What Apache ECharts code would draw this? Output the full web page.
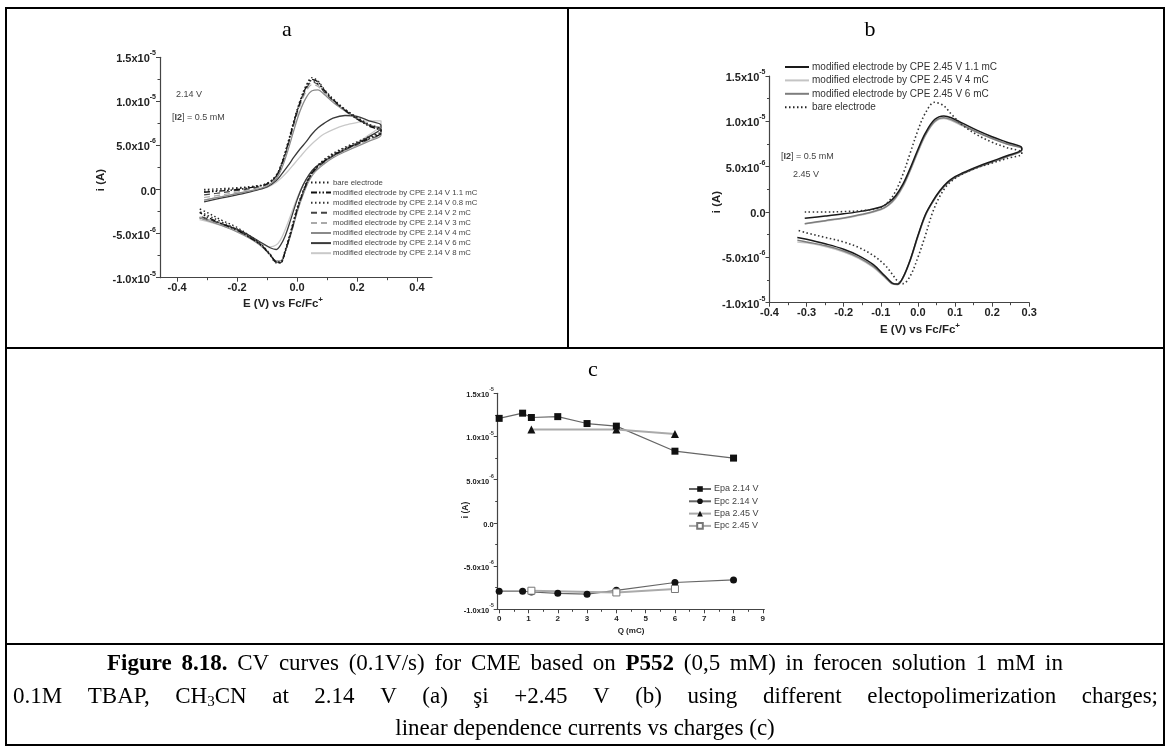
<!DOCTYPE html>
<html><head><meta charset="utf-8">
<script src="https://cdn.jsdelivr.net/npm/echarts@6/dist/echarts.min.js"></script>
<style>html,body{margin:0;padding:0;background:#fff}#c{width:1171px;height:747px}</style>
</head><body><div id="c"></div>
<script>
// ---------- DATA (currents in units of 1e-6 A) ----------
// Panel a: potential grids (V vs Fc/Fc+), forward then reverse scan
const E_FWD_A = [-0.31,-0.25,-0.2,-0.15,-0.1,-0.07,-0.05,-0.03,-0.01,0.01,0.03,0.05,0.07,0.09,0.12,0.16,0.2,0.24,0.28];
const E_REV_A = [0.28,0.24,0.2,0.16,0.12,0.09,0.06,0.04,0.02,0.0,-0.02,-0.04,-0.055,-0.07,-0.09,-0.12,-0.16,-0.2,-0.25,-0.3,-0.325];
const A_BARE_FWD = [0.0,0.1,0.2,0.35,0.7,1.6,3.1,5.3,7.8,9.9,11.5,12.4,12.0,11.2,10.2,9.1,8.2,7.4,6.8];
const A_BARE_REV = [6.6,6.0,5.4,4.8,4.1,3.4,2.4,1.4,-0.2,-2.1,-4.6,-6.9,-8.2,-8.2,-7.3,-6.2,-5.2,-4.3,-3.5,-2.6,-2.2];
const A_11_FWD = [-0.3,-0.15,0.0,0.25,0.65,1.5,3.0,5.2,7.7,9.9,11.6,12.5,12.2,11.3,10.2,9.0,8.0,7.2,6.6];
const A_11_REV = [6.4,5.8,5.2,4.6,3.9,3.2,2.3,1.3,-0.3,-2.3,-4.8,-7.1,-8.3,-8.2,-7.4,-6.3,-5.4,-4.6,-3.9,-3.1,-2.6];
const A_08_FWD = [-0.2,-0.05,0.1,0.3,0.7,1.6,3.1,5.4,7.9,10.1,11.8,12.7,12.3,11.4,10.3,9.1,8.1,7.3,6.7];
const A_08_REV = [6.5,5.9,5.3,4.7,4.0,3.3,2.4,1.4,-0.2,-2.2,-4.7,-7.0,-8.3,-8.3,-7.4,-6.3,-5.3,-4.5,-3.7,-2.9,-2.5];
const A_2_FWD = [-0.6,-0.35,-0.1,0.15,0.6,1.5,2.9,5.1,7.6,9.8,11.4,12.2,11.9,11.1,10.1,9.0,8.1,7.3,6.8];
const A_2_REV = [6.4,5.7,5.1,4.5,3.8,3.1,2.2,1.2,-0.4,-2.4,-4.9,-7.1,-8.3,-8.2,-7.4,-6.3,-5.4,-4.6,-3.9,-3.3,-3.0];
const A_3_FWD = [-0.9,-0.6,-0.3,0.05,0.5,1.4,2.8,4.9,7.3,9.5,11.1,11.9,11.7,11.0,10.0,9.0,8.1,7.3,6.8];
const A_3_REV = [6.3,5.6,5.0,4.4,3.7,3.0,2.1,1.1,-0.5,-2.5,-5.0,-7.1,-8.2,-8.2,-7.4,-6.3,-5.4,-4.7,-4.0,-3.4,-3.1];
const A_4_FWD = [-1.2,-0.8,-0.45,-0.1,0.4,1.2,2.5,4.5,6.8,8.9,10.4,11.2,11.3,10.8,9.9,8.9,8.0,7.3,6.9];
const A_4_REV = [6.2,5.5,4.9,4.3,3.6,2.9,2.0,1.0,-0.6,-2.6,-5.0,-7.1,-8.1,-8.1,-7.4,-6.4,-5.5,-4.8,-4.1,-3.5,-3.2];
const A_6_FWD = [-1.4,-0.95,-0.6,-0.2,0.3,1.0,1.8,2.7,3.7,4.6,5.4,6.3,7.0,7.5,8.1,8.4,8.3,7.8,7.3];
const A_6_REV = [7.0,6.0,5.2,4.5,3.8,3.2,2.5,1.7,0.5,-1.2,-3.3,-5.3,-6.3,-6.8,-6.6,-6.0,-5.2,-4.5,-3.9,-3.4,-3.2];
const A_8_FWD = [-1.2,-0.8,-0.5,-0.15,0.25,0.8,1.4,2.1,2.9,3.7,4.5,5.2,5.8,6.3,6.8,7.3,7.6,7.8,7.8];
const A_8_REV = [7.4,6.2,5.3,4.6,3.9,3.2,2.4,1.6,0.5,-1.0,-2.8,-4.6,-5.7,-6.3,-6.5,-6.1,-5.4,-4.7,-4.1,-3.6,-3.4];

// Panel b
const E_FWD_B = [-0.305,-0.25,-0.2,-0.15,-0.1,-0.08,-0.06,-0.04,-0.02,0.0,0.02,0.045,0.07,0.09,0.12,0.16,0.2,0.24,0.28];
const E_REV_B = [0.28,0.24,0.2,0.16,0.12,0.1,0.08,0.06,0.04,0.02,0.0,-0.02,-0.04,-0.055,-0.07,-0.09,-0.12,-0.16,-0.2,-0.25,-0.3,-0.325];
const B_11_FWD = [-0.7,-0.45,-0.2,0.1,0.55,1.0,1.8,3.1,4.9,6.9,8.7,10.2,10.6,10.4,9.8,9.0,8.3,7.7,7.1];
const B_11_REV = [6.9,6.2,5.6,5.0,4.3,3.9,3.3,2.4,1.2,-0.3,-2.6,-5.2,-7.2,-7.95,-7.8,-7.0,-5.8,-4.8,-4.1,-3.5,-3.0,-2.8];
const B_4_FWD = [-1.3,-1.0,-0.7,-0.3,0.25,0.7,1.5,2.8,4.6,6.6,8.4,9.9,10.3,10.1,9.5,8.8,8.1,7.5,7.0];
const B_4_REV = [6.8,6.1,5.5,4.9,4.2,3.8,3.2,2.3,1.1,-0.4,-2.7,-5.3,-7.3,-8.0,-7.9,-7.2,-6.1,-5.1,-4.4,-3.8,-3.4,-3.3];
const B_6_FWD = [-1.3,-0.95,-0.65,-0.25,0.3,0.75,1.6,2.9,4.7,6.7,8.5,10.0,10.4,10.2,9.6,8.8,8.1,7.5,7.0];
const B_6_REV = [6.8,6.1,5.5,4.9,4.2,3.8,3.2,2.3,1.1,-0.4,-2.7,-5.2,-7.2,-8.0,-7.9,-7.1,-6.0,-5.0,-4.3,-3.7,-3.3,-3.1];
const B_BARE_FWD = [0.0,0.0,0.05,0.15,0.5,1.1,2.3,4.2,6.6,9.0,10.9,12.1,11.7,10.8,9.6,8.5,7.7,7.1,6.6];
const B_BARE_REV = [6.4,5.9,5.4,4.9,4.2,3.7,3.0,1.8,0.0,-2.6,-5.0,-7.0,-7.9,-7.6,-6.8,-5.8,-4.8,-3.9,-3.3,-2.8,-2.3,-2.0];

// Panel c
const Q_214 = [0,0.8,1.1,2,3,4,6,8];
const EPA_214 = [12.1,12.7,12.2,12.3,11.5,11.2,8.3,7.5];
const EPC_214 = [-7.9,-7.9,-8.0,-8.15,-8.25,-7.8,-6.9,-6.6];
const Q_245 = [1.1,4,6];
const EPA_245 = [10.8,10.8,10.3];
const EPC_245 = [-7.85,-8.05,-7.65];

// Tick values
const XA_LABELS = [-0.4,-0.2,0,0.2,0.4];
const XA_MINOR = [-0.3,-0.1,0.1,0.3];
const XB_LABELS = [-0.4,-0.3,-0.2,-0.1,0,0.1,0.2,0.3];
const XB_MINOR = [-0.35,-0.25,-0.15,-0.05,0.05,0.15,0.25];
const XC_LABELS = [0,1,2,3,4,5,6,7,8,9];
const XC_MINOR = [0.5,1.5,2.5,3.5,4.5,5.5,6.5,7.5,8.5];

// Caption lines (words; * marks bold, CH3CN has subscript)
const CAP1 = ['*Figure','*8.18.','CV','curves','(0.1V/s)','for','CME','based','on','*P552','(0,5','mM)','in','ferocen','solution','1','mM','in'];
const CAP2 = ['0.1M','TBAP,','CH3CN','at','2.14','V','(a)','şi','+2.45','V','(b)','using','different','electopolimerization','charges;'];
const CAP3 = 'linear dependence currents vs charges (c)';

// ---------- helpers ----------
function loop(ef, er, vf, vr){
  const out=[]; ef.forEach((e,i)=>out.push([e,vf[i]])); er.forEach((e,i)=>out.push([e,vr[i]])); return out;
}
function zip(x,y){ return x.map((v,i)=>[v,y[i]]); }
const SANS = 'Liberation Sans, Arial, sans-serif';
const SERIF = 'Liberation Serif, Times New Roman, serif';
function sci(v){
  if (Math.abs(v) < 1e-9) return '{m|0.0}';
  const a = Math.abs(v);
  const e = a >= 10 ? -5 : -6;
  const m = (v/Math.pow(10, e+6)).toFixed(1);
  return '{m|' + m + 'x10}{e|' + e + '}';
}
function yAxisDef(grid, fs){
  return {
    type:'value', gridIndex:grid, min:-10, max:15, interval:5,
    axisLine:{show:true, onZero:false, lineStyle:{color:'#444', width:1.2}},
    axisTick:{show:true, length:4, lineStyle:{color:'#444'}},
    minorTick:{show:true, splitNumber:2, length:2.5, lineStyle:{color:'#444'}},
    splitLine:{show:false},
    axisLabel:{formatter:sci, margin:4, color:'#222',
      rich:{m:{fontFamily:SANS, fontWeight:'bold', fontSize:fs, lineHeight:fs+4, color:'#222', verticalAlign:'bottom'},
            e:{fontFamily:SANS, fontWeight:'bold', fontSize:Math.round(fs*0.6), lineHeight:fs+4, color:'#222', verticalAlign:'top'}}}
  };
}
function xMajor(grid, min, max, labels, fs, fmt){
  return {type:'value', gridIndex:grid, position:'bottom', min:min, max:max,
    axisLine:{show:true, onZero:false, lineStyle:{color:'#444', width:1.2}},
    axisTick:{show:true, length:4, customValues:labels, lineStyle:{color:'#444'}},
    axisLabel:{customValues:labels, formatter:fmt, fontFamily:SANS, fontWeight:'bold', fontSize:fs, color:'#222', margin:5},
    splitLine:{show:false}};
}
function xMinor(grid, min, max, ticks){
  return {type:'value', gridIndex:grid, position:'bottom', min:min, max:max,
    axisLine:{show:false, onZero:false}, axisLabel:{show:false}, splitLine:{show:false},
    axisTick:{show:true, length:2.5, customValues:ticks, lineStyle:{color:'#444'}}};
}
function cv(name, data, xi, color, type, width){
  return {name:name, type:'line', xAxisIndex:xi, yAxisIndex:(xi===0?0:1), data:data,
    smooth:0.35, symbol:'none', showSymbol:false, animation:false,
    lineStyle:{color:color, type:type, width:width}, itemStyle:{color:color}};
}

const DOT = [1.5,2.5], DASHDOTDOT = [6,2,1.5,2,1.5,2], DASH = [6,4];
const series = [
  cv('modified electrode by CPE 2.14 V 8 mC', loop(E_FWD_A,E_REV_A,A_8_FWD,A_8_REV), 0, '#c9c9c9', 'solid', 1.3),
  cv('modified electrode by CPE 2.14 V 6 mC', loop(E_FWD_A,E_REV_A,A_6_FWD,A_6_REV), 0, '#3a3a3a', 'solid', 1.3),
  cv('modified electrode by CPE 2.14 V 4 mC', loop(E_FWD_A,E_REV_A,A_4_FWD,A_4_REV), 0, '#8a8a8a', 'solid', 1.3),
  cv('modified electrode by CPE 2.14 V 3 mC', loop(E_FWD_A,E_REV_A,A_3_FWD,A_3_REV), 0, '#aaaaaa', DASH, 1.2),
  cv('modified electrode by CPE 2.14 V 2 mC', loop(E_FWD_A,E_REV_A,A_2_FWD,A_2_REV), 0, '#444444', DASH, 1.2),
  cv('modified electrode by CPE 2.14 V 0.8 mC', loop(E_FWD_A,E_REV_A,A_08_FWD,A_08_REV), 0, '#333333', DOT, 1.4),
  cv('modified electrode by CPE 2.14 V 1.1 mC', loop(E_FWD_A,E_REV_A,A_11_FWD,A_11_REV), 0, '#111111', DASHDOTDOT, 1.4),
  cv('bare electrode', loop(E_FWD_A,E_REV_A,A_BARE_FWD,A_BARE_REV), 0, '#222222', DOT, 1.4),

  cv('modified electrode by CPE 2.45 V 4 mC', loop(E_FWD_B,E_REV_B,B_4_FWD,B_4_REV), 2, '#c4c4c4', 'solid', 1.5),
  cv('modified electrode by CPE 2.45 V 6 mC', loop(E_FWD_B,E_REV_B,B_6_FWD,B_6_REV), 2, '#7d7d7d', 'solid', 1.5),
  cv('modified electrode by CPE 2.45 V 1.1 mC', loop(E_FWD_B,E_REV_B,B_11_FWD,B_11_REV), 2, '#1a1a1a', 'solid', 1.5),
  cv('bare electrode', loop(E_FWD_B,E_REV_B,B_BARE_FWD,B_BARE_REV), 2, '#333333', DOT, 1.6),

  {name:'Epa 2.14 V', type:'line', xAxisIndex:4, yAxisIndex:2, data:zip(Q_214,EPA_214), symbol:'rect', symbolSize:7, animation:false,
    lineStyle:{color:'#666', width:1.2}, itemStyle:{color:'#111'}},
  {name:'Epc 2.14 V', type:'line', xAxisIndex:4, yAxisIndex:2, data:zip(Q_214,EPC_214), symbol:'circle', symbolSize:7, animation:false,
    lineStyle:{color:'#666', width:1.2}, itemStyle:{color:'#111'}},
  {name:'Epa 2.45 V', type:'line', xAxisIndex:4, yAxisIndex:2, data:zip(Q_245,EPA_245), symbol:'triangle', symbolSize:8, animation:false,
    lineStyle:{color:'#aaa', width:2}, itemStyle:{color:'#111'}},
  {name:'Epc 2.45 V', type:'line', xAxisIndex:4, yAxisIndex:2, data:zip(Q_245,EPC_245), symbol:'rect', symbolSize:7, animation:false,
    lineStyle:{color:'#aaa', width:2}, itemStyle:{color:'#fff', borderColor:'#777', borderWidth:1}}
];

const f1 = v => v.toFixed(1);
const f0 = v => String(Math.round(v));

// ---------- caption layout (justified words) ----------
const mctx = document.createElement('canvas').getContext('2d');
function mw(text, size, bold){ mctx.font = (bold?'bold ':'') + size + 'px ' + SERIF; return mctx.measureText(text).width; }
const CAP_FS = 23, SUB_FS = 15;
function wordInfo(w){
  if (w === 'CH3CN') return {text:'CH{sub|3}CN', width: mw('CH',CAP_FS,false)+mw('3',SUB_FS,false)+mw('CN',CAP_FS,false), bold:false};
  const bold = w[0]==='*'; const t = bold ? w.slice(1) : w;
  return {text:t, width:mw(t,CAP_FS,bold), bold:bold};
}
function justify(words, x0, x1, y){
  const info = words.map(wordInfo);
  const total = info.reduce((s,i)=>s+i.width,0);
  const gap = (x1 - x0 - total) / (words.length - 1);
  let x = x0; const out = [];
  info.forEach(i=>{
    out.push({type:'text', x:x, y:y, style:{text:i.text, fontFamily:SERIF, fontSize:CAP_FS, fontWeight:i.bold?'bold':'normal',
      fill:'#000', align:'left', verticalAlign:'middle',
      rich:{sub:{fontFamily:SERIF, fontSize:SUB_FS, fill:'#000', lineHeight:26, verticalAlign:'bottom'}}}});
    x += i.width + gap;
  });
  return out;
}

const option = {
  backgroundColor:'#fff',
  animation:false,
  grid:[
    {left:160, top:57.3, width:272, height:220.4},
    {left:769.5, top:76, width:259.7, height:226.7},
    {left:497.7, top:393.3, width:266.6, height:216}
  ],
  xAxis:[
    xMajor(0,-0.457,0.45,XA_LABELS,11,f1), xMinor(0,-0.457,0.45,XA_MINOR),
    xMajor(1,-0.4,0.3,XB_LABELS,11,f1), xMinor(1,-0.4,0.3,XB_MINOR),
    xMajor(2,-0.05,9.05,XC_LABELS,8,f0), xMinor(2,-0.05,9.05,XC_MINOR)
  ],
  yAxis:[ yAxisDef(0,11), yAxisDef(1,11), yAxisDef(2,7.5) ],
  legend:[
    {left:310, top:178.5, orient:'vertical', itemWidth:20, itemHeight:6, itemGap:2.1, padding:0, selectedMode:false,
     itemStyle:{opacity:0},
     textStyle:{fontFamily:SANS, fontSize:7.8, color:'#444', padding:[0,0,0,-3]},
     data:['bare electrode','modified electrode by CPE 2.14 V 1.1 mC','modified electrode by CPE 2.14 V 0.8 mC','modified electrode by CPE 2.14 V 2 mC','modified electrode by CPE 2.14 V 3 mC','modified electrode by CPE 2.14 V 4 mC','modified electrode by CPE 2.14 V 6 mC','modified electrode by CPE 2.14 V 8 mC']},
    {left:784, top:62, orient:'vertical', itemWidth:24, itemHeight:6, itemGap:3.4, padding:0, selectedMode:false,
     itemStyle:{opacity:0},
     textStyle:{fontFamily:SANS, fontSize:10, color:'#333', padding:[0,0,0,-2]},
     data:['modified electrode by CPE 2.45 V 1.1 mC','modified electrode by CPE 2.45 V 4 mC','modified electrode by CPE 2.45 V 6 mC','bare electrode']},
    {left:688, top:484.5, orient:'vertical', itemWidth:22, itemHeight:7, itemGap:3.3, padding:0, selectedMode:false,
     textStyle:{fontFamily:SANS, fontSize:9, color:'#444', padding:[0,0,0,-2]},
     data:['Epa 2.14 V','Epc 2.14 V','Epa 2.45 V','Epc 2.45 V']}
  ],
  series: series,
  graphic:[
    // table borders
    {type:'rect', shape:{x:6, y:8, width:1158, height:737}, style:{fill:'none', stroke:'#000', lineWidth:2}, silent:true},
    {type:'line', shape:{x1:6, y1:348, x2:1164, y2:348}, style:{stroke:'#000', lineWidth:2}},
    {type:'line', shape:{x1:568, y1:8, x2:568, y2:348}, style:{stroke:'#000', lineWidth:2}},
    {type:'line', shape:{x1:6, y1:644, x2:1164, y2:644}, style:{stroke:'#000', lineWidth:2}},
    // panel letters
    {type:'text', x:287, y:30, style:{text:'a', fontFamily:SERIF, fontSize:22, fill:'#000', align:'center', verticalAlign:'middle'}},
    {type:'text', x:870, y:30, style:{text:'b', fontFamily:SERIF, fontSize:22, fill:'#000', align:'center', verticalAlign:'middle'}},
    {type:'text', x:593, y:370, style:{text:'c', fontFamily:SERIF, fontSize:22, fill:'#000', align:'center', verticalAlign:'middle'}},
    // axis names panel a
    {type:'text', x:283, y:303, style:{text:'{n|E (V) vs Fc/Fc}{s|+}', align:'center', verticalAlign:'middle',
      rich:{n:{fontFamily:SANS, fontWeight:'bold', fontSize:11.5, fill:'#222', lineHeight:14, verticalAlign:'bottom'},
            s:{fontFamily:SANS, fontWeight:'bold', fontSize:8, fill:'#222', lineHeight:14, verticalAlign:'top'}}}},
    {type:'text', x:101, y:180, rotation:Math.PI/2, style:{text:'i (A)', fontFamily:SANS, fontWeight:'bold', fontSize:11.5, fill:'#222', align:'center', verticalAlign:'middle'}},
    {type:'text', x:176, y:95, style:{text:'2.14 V', fontFamily:SANS, fontSize:9, fill:'#444', verticalAlign:'middle'}},
    {type:'text', x:172, y:118, style:{text:'[{b|I2}] = 0.5 mM', fontFamily:SANS, fontSize:9, fill:'#444', verticalAlign:'middle',
      rich:{b:{fontFamily:SANS, fontWeight:'bold', fontSize:9, fill:'#444'}}}},
    // axis names panel b
    {type:'text', x:920, y:329, style:{text:'{n|E (V) vs Fc/Fc}{s|+}', align:'center', verticalAlign:'middle',
      rich:{n:{fontFamily:SANS, fontWeight:'bold', fontSize:11.5, fill:'#222', lineHeight:14, verticalAlign:'bottom'},
            s:{fontFamily:SANS, fontWeight:'bold', fontSize:8, fill:'#222', lineHeight:14, verticalAlign:'top'}}}},
    {type:'text', x:717, y:202, rotation:Math.PI/2, style:{text:'i (A)', fontFamily:SANS, fontWeight:'bold', fontSize:11.5, fill:'#222', align:'center', verticalAlign:'middle'}},
    {type:'text', x:781, y:157, style:{text:'[{b|I2}] = 0.5 mM', fontFamily:SANS, fontSize:9, fill:'#444', verticalAlign:'middle',
      rich:{b:{fontFamily:SANS, fontWeight:'bold', fontSize:9, fill:'#444'}}}},
    {type:'text', x:793, y:175, style:{text:'2.45 V', fontFamily:SANS, fontSize:9, fill:'#444', verticalAlign:'middle'}},
    // axis names panel c
    {type:'text', x:631, y:631, style:{text:'Q (mC)', fontFamily:SANS, fontWeight:'bold', fontSize:8, fill:'#222', align:'center', verticalAlign:'middle'}},
    {type:'text', x:466, y:510, rotation:Math.PI/2, style:{text:'i (A)', fontFamily:SANS, fontWeight:'bold', fontSize:8.5, fill:'#222', align:'center', verticalAlign:'middle'}},
    // caption
    ...justify(CAP1, 107, 1063, 664),
    ...justify(CAP2, 13, 1158, 697),
    {type:'text', x:585, y:729, style:{text:CAP3, fontFamily:SERIF, fontSize:CAP_FS, fill:'#000', align:'center', verticalAlign:'middle'}}
  ]
};
const chart = echarts.init(document.getElementById('c'), null, {renderer:'canvas'});
chart.setOption(option);
</script>
</body></html>
